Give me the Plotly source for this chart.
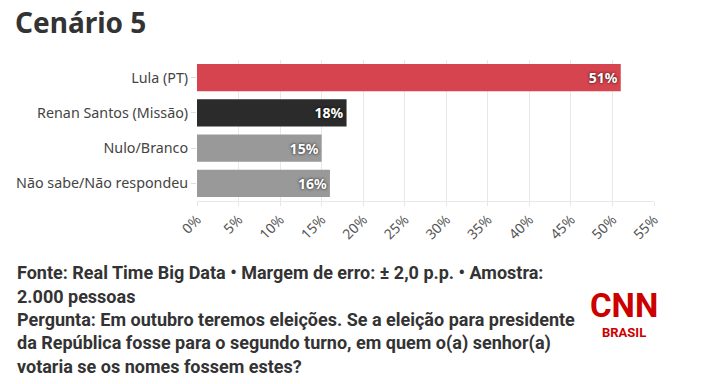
import plotly.graph_objects as go

categories = ["Lula (PT)", "Renan Santos (Missão)", "Nulo/Branco", "Não sabe/Não respondeu"]
values = [51, 18, 15, 16]
colors = ["#d6454f", "#2b2b2b", "#999999", "#999999"]
tick_vals = [0, 5, 10, 15, 20, 25, 30, 35, 40, 45, 50, 55]
tick_text = [f"{v}%" for v in tick_vals]
title_text = "Cenário 5"
footer_lines = [
    "Fonte: Real Time Big Data • Margem de erro: ± 2,0 p.p. • Amostra:",
    "2.000 pessoas",
    "Pergunta: Em outubro teremos eleições. Se a eleição para presidente",
    "da República fosse para o segundo turno, em quem o(a) senhor(a)",
    "votaria se os nomes fossem estes?",
]

W, H = 707, 384
L, R, T, B = 197, 53, 60, 183
PW, PH = W - L - R, H - T - B

def px_x(x):
    return (x - L) / PW

def px_y(y):
    return (H - B - y) / PH

fig = go.Figure(go.Bar(
    x=values,
    y=categories,
    orientation="h",
    marker=dict(color=colors, line=dict(width=0)),
    text=[f"{v}%" for v in values],
    textposition="inside",
    insidetextanchor="end",
    textfont=dict(family="Noto Sans, sans-serif", size=14, color="white", weight="bold",
                  shadow="0px 0px 3px rgba(0,0,0,0.9)"),
    cliponaxis=False,
    hoverinfo="skip",
))

fig.update_layout(
    width=W, height=H,
    margin=dict(l=L, r=R, t=T, b=B, autoexpand=False),
    paper_bgcolor="white", plot_bgcolor="white",
    bargap=0.22,
    showlegend=False,
    title=dict(text=f"<b>{title_text}</b>", x=15 / W, xanchor="left", xref="container",
               y=1 - 23 / H, yanchor="middle", yref="container",
               font=dict(family="Noto Sans, sans-serif", size=28, color="#333333")),
    xaxis=dict(range=[0, 55], tickvals=tick_vals, ticktext=tick_text, tickangle=-45,
               showgrid=True, gridcolor="#e8e8e8", gridwidth=1, zeroline=False,
               showline=True, linecolor="#e8e8e8",
               ticks="outside", ticklen=4, tickcolor="#e8e8e8",
               tickfont=dict(family="Noto Sans, sans-serif", size=14, color="#555555"),
               fixedrange=True),
    yaxis=dict(autorange="reversed", ticks="outside", ticklen=5, tickcolor="#dddddd",
               showline=False, showgrid=False,
               tickfont=dict(family="Noto Sans, sans-serif", size=14.3, color="#444444"),
               fixedrange=True),
)

line_ys = [272, 296, 319, 343, 366]
for txt, yy in zip(footer_lines, line_ys):
    fig.add_annotation(text=f"<b>{txt}</b>", xref="paper", yref="paper",
                       x=px_x(15), y=px_y(yy), xanchor="left", yanchor="middle",
                       showarrow=False,
                       font=dict(family="Roboto, sans-serif", size=18, color="#333333"))

fig.add_annotation(text="<b>CNN</b>", xref="paper", yref="paper",
                   x=px_x(624), y=px_y(305), xanchor="center", yanchor="middle", showarrow=False,
                   font=dict(family="Roboto, sans-serif", size=33, color="#cc0000"))
fig.add_annotation(text="<b>BRASIL</b>", xref="paper", yref="paper",
                   x=px_x(624), y=px_y(332), xanchor="center", yanchor="middle", showarrow=False,
                   font=dict(family="Roboto, sans-serif", size=13, color="#cc0000"))

fig.write_html("out.html", config={"displayModeBar": False},
               post_script="document.body.style.margin='0';")
